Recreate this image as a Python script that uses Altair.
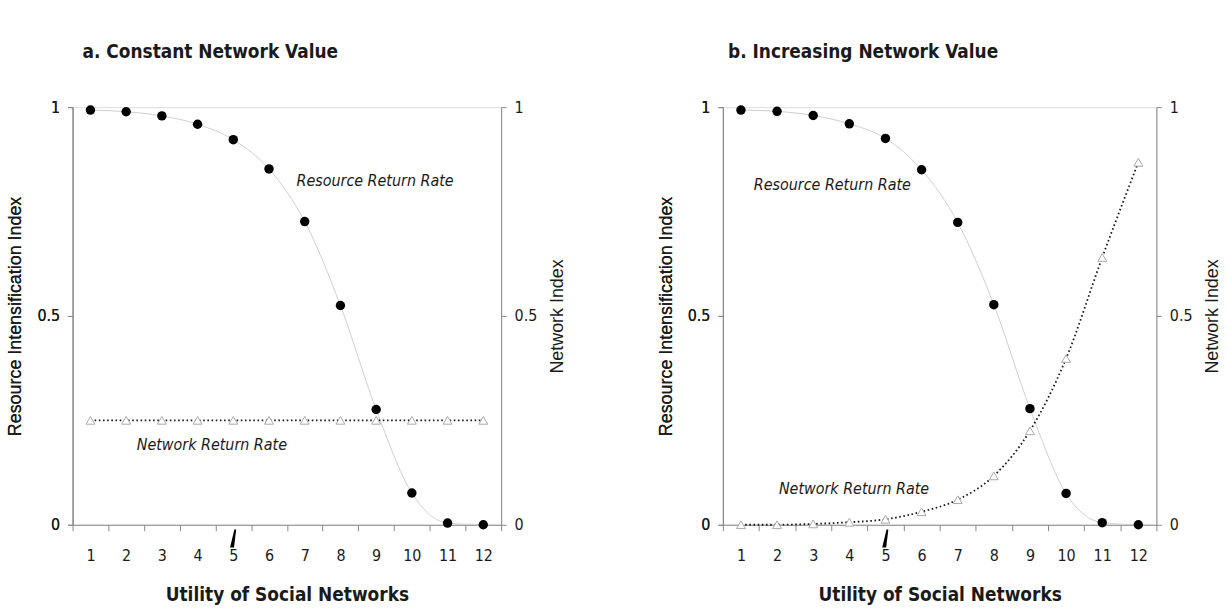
import altair as alt
import pandas as pd

# ---- data -------------------------------------------------------------
utility = [1, 2, 3, 4, 5, 6, 7, 8, 9, 10, 11, 12]
band_edges = [0.5, 1.5, 2.5, 3.5, 4.5, 5.5, 6.5, 7.5, 8.5, 9.5, 10.5, 11.5, 12.5]

resource_rate_a = [0.993, 0.989, 0.979, 0.959, 0.922, 0.852, 0.726, 0.525, 0.276, 0.076, 0.004, 0.0]
network_rate_a = [0.25, 0.25, 0.25, 0.25, 0.25, 0.25, 0.25, 0.25, 0.25, 0.25, 0.25, 0.25]

resource_rate_b = [0.993, 0.990, 0.980, 0.960, 0.925, 0.850, 0.724, 0.527, 0.278, 0.075, 0.005, 0.0]
network_rate_b = [0.0, 0.0, 0.002, 0.006, 0.013, 0.031, 0.060, 0.117, 0.225, 0.398, 0.640, 0.868]

y_ticks = [0, 0.5, 1]

# marker under the x axis at utility = 5
marker_x = [5]
marker_y = [-0.033]

NARROW = "Liberation Sans Narrow, DejaVu Sans Condensed, Liberation Sans, sans-serif"
REGULAR = "Liberation Sans, Arial, sans-serif"
AXIS_GREY = "#666666"
INK = "#1a1a1a"

# thin wedge used as the marker glyph
WEDGE = "M0.12,-1 L0.32,-1 L0.08,1 L-0.36,1 Z"


def y_axis(orient, title, baseline):
    return alt.Axis(
        orient=orient,
        values=y_ticks,
        format="~g",
        tickSize=5,
        labelPadding=8,
        labelFont=NARROW,
        labelFontSize=16,
        labelColor=INK,
        title=title,
        titleAngle=270,
        titleBaseline=baseline,
        titleFont=REGULAR,
        titleFontSize=18,
        titleFontWeight="normal",
        titleColor=INK,
        titlePadding=12,
        grid=False,
    )


def panel(title, resource, network, res_label, net_label, width, height):
    df = pd.DataFrame({"utility": utility, "resource": resource, "network": network})
    mark_df = pd.DataFrame({"utility": marker_x, "resource": marker_y})
    res_df = pd.DataFrame({"utility": [res_label[0]], "resource": [res_label[1]],
                           "label": ["Resource Return Rate"]})
    net_df = pd.DataFrame({"utility": [net_label[0]], "resource": [net_label[1]],
                           "label": ["Network Return Rate"]})

    x_scale = alt.Scale(domain=[0.5, 12.5], nice=False, zero=False)
    x = alt.X(
        "utility:Q",
        scale=x_scale,
        axis=alt.Axis(
            values=sorted(utility + band_edges),
            labelExpr="datum.value % 1 === 0 ? format(datum.value, 'd') : ''",
            tickOpacity={"condition": {"test": "datum.value % 1 === 0", "value": 0}, "value": 1},
            labelOverlap=False,
            labelFlush=False,
            tickSize=6,
            labelPadding=17,
            labelFont=NARROW,
            labelFontSize=16,
            labelColor=INK,
            title="Utility of Social Networks",
            titleFont=NARROW,
            titleFontSize=19,
            titleFontWeight="bold",
            titleColor=INK,
            titlePadding=22,
            grid=False,
        ),
    )

    y_scale = alt.Scale(domain=[0, 1], nice=False, zero=False)
    y_left = alt.Y("resource:Q", scale=y_scale,
                   axis=y_axis("left", "Resource Intensification Index", "bottom"))
    y_right = alt.Y("network:Q", scale=y_scale,
                    axis=y_axis("right", "Network Index", "top"))

    base = alt.Chart(df)

    resource_curve = base.mark_line(interpolate="monotone", color="#cfcfcf", strokeWidth=1).encode(
        x=x, y=y_left
    )
    resource_points = base.mark_circle(size=90, color="black", opacity=1).encode(x=x, y=y_left)
    marker = alt.Chart(mark_df).mark_point(
        shape=WEDGE, size=330, filled=True, color="black", opacity=1
    ).encode(x=x, y=y_left)
    res_text = alt.Chart(res_df).mark_text(
        font=NARROW, fontSize=16, fontStyle="italic", color=INK
    ).encode(x=x, y=y_left, text="label:N")
    net_text = alt.Chart(net_df).mark_text(
        font=NARROW, fontSize=16, fontStyle="italic", color=INK
    ).encode(x=x, y=y_left, text="label:N")

    network_line = base.mark_line(
        interpolate="monotone", color=INK, strokeWidth=1.8, strokeDash=[1.6, 2.6]
    ).encode(x=x, y=y_right)
    network_points = base.mark_point(
        shape="triangle-up", size=80, filled=True, fill="white", stroke="#a8a8a8",
        strokeWidth=1, opacity=1
    ).encode(x=x, y=y_right)

    left = alt.layer(resource_curve, res_text, net_text, marker)
    right = alt.layer(network_line, network_points)

    return (
        alt.layer(left, right, resource_points)
        .resolve_scale(y="independent")
        .properties(
            width=width,
            height=height,
            title=alt.TitleParams(
                title,
                anchor="middle",
                dx=-77,
                offset=18,
                baseline="bottom",
                font=NARROW,
                fontSize=19,
                fontWeight="bold",
                color=INK,
            ),
        )
    )


panel_a = panel("a. Constant Network Value", resource_rate_a, network_rate_a,
                (8.97, 0.822), (4.4, 0.19), 431, 420)
panel_b = panel("b. Increasing Network Value", resource_rate_b, network_rate_b,
                (3.53, 0.813), (4.13, 0.085), 436, 420)

chart = (
    alt.hconcat(panel_a, panel_b, spacing=89)
    .properties(padding={"left": 6, "top": 41, "right": 5, "bottom": 5})
    .configure_view(stroke=None)
    .configure_axis(domainColor=AXIS_GREY, tickColor=AXIS_GREY, domainWidth=1.5, tickWidth=1.5)
    .configure(background="white")
)

chart.save("out.html", embed_options={"renderer": "svg", "actions": False})
